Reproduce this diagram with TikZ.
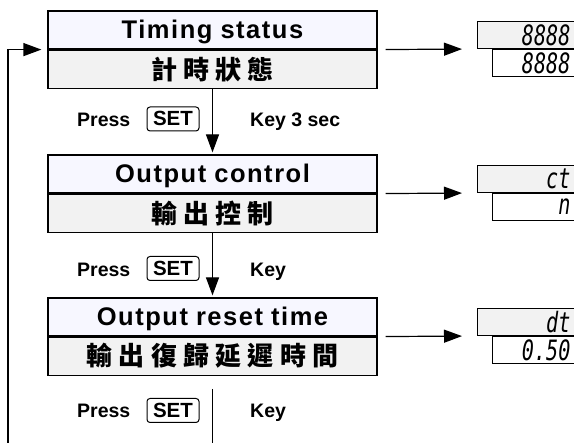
\documentclass[tikz,border=0pt]{standalone}
\usepackage{fontspec}
\usepackage{graphicx}
\setsansfont{Liberation Sans}
\newfontfamily\titlefont{Liberation Sans}[LetterSpace=6]
\newfontfamily\cjk{Noto Sans CJK TC}[LetterSpace=24]
\newfontfamily\lcd{DejaVu Sans Mono}
\usetikzlibrary{positioning,arrows.meta}

\tikzset{
  title/.style={draw, line width=1.2pt, fill=blue!3, minimum width=329pt,
    minimum height=38pt, inner sep=0pt, text height=18pt, text depth=0pt,
    font=\titlefont\bfseries\fontsize{25.5}{25}\selectfont},
  sub/.style={draw, line width=1.2pt, fill=gray!10, minimum width=329pt,
    minimum height=38pt, inner sep=0pt, font=\cjk\bfseries\fontsize{26}{26}\selectfont},
  lcdtop/.style={draw, line width=1pt, fill=gray!10, minimum height=27pt,
    inner xsep=10pt, inner ysep=0pt, align=right,
    font=\lcd\itshape\fontsize{28}{28}\selectfont},
  lcdbot/.style={lcdtop, fill=white},
  setkey/.style={draw, line width=1pt, rounded corners=3pt, minimum width=52pt,
    minimum height=24pt, inner sep=0pt, text height=14pt, text depth=0pt,
    font=\sffamily\bfseries\fontsize{20.5}{20}\selectfont},
  lbl/.style={anchor=base west, inner sep=0pt,
    font=\sffamily\bfseries\fontsize{19.5}{20}\selectfont},
  arr/.style={line width=1.2pt, -{Triangle[length=18pt,width=13pt]}},
}

\begin{document}
\begin{tikzpicture}[x=1pt,y=1pt]
    \clip (0,0) rectangle (574,443);
    % menu boxes
    \node[title] (t1) at (212.5,413) {Timing\hspace{8pt}status};
    \node[sub, below=0pt of t1] (c1) {計時狀態};
    \node[title] (t2) at (212.5,269) {Output\hspace{8pt}control};
    \node[sub, below=0pt of t2] (c2) {輸出控制};
    \node[title] (t3) at (212.5,126) {Output\hspace{8pt}reset\hspace{8pt}time};
    \node[sub, below=0pt of t3] (c3) {輸出復歸延遲時間};
    % displays
    \node[lcdtop, anchor=south west, text width=83pt] (d1) at (477,394) {\scalebox{0.72}[1]{8888}};
    \node[lcdbot, anchor=north west, text width=68pt] (e1) at (492,394) {\scalebox{0.72}[1]{8888}};
    \node[lcdtop, anchor=south west, text width=83pt] (d2) at (477,250) {\scalebox{0.72}[1]{ct}};
    \node[lcdbot, anchor=north west, text width=68pt] (e2) at (492,250) {\scalebox{0.72}[1]{n}};
    \node[lcdtop, anchor=south west, text width=83pt] (d3) at (477,107) {\scalebox{0.72}[1]{dt}};
    \node[lcdbot, anchor=north west, text width=68pt] (e3) at (492,107) {\scalebox{0.72}[1]{0.50}};
    % key labels
    \node[lbl] (p1) at (77,316) {Press};
    \node[setkey] (s1) at (173,324) {SET};
    \node[lbl] (k1) at (250,316) {Key 3 sec};
    \node[lbl] (p2) at (77,166) {Press};
    \node[setkey] (s2) at (173,174.5) {SET};
    \node[lbl] (k2) at (250,166) {Key};
    \node[lbl] (p3) at (77,25) {Press};
    \node[setkey] (s3) at (173,32.5) {SET};
    \node[lbl] (k3) at (250,25) {Key};
    % connectors
    \draw[arr, shorten >=2pt] (c1) -- (t2);
    \draw[arr, shorten >=2pt] (c2) -- (t3);
    \coordinate (b3) at ([yshift=-13pt]c3.south);
    \coordinate (f3) at (c3.south |- 0,0);
    \draw[line width=1.2pt] (b3) -- (f3);
    \coordinate (loop) at (8,0);
    \draw[arr, shorten >=6pt] (loop) |- (t1.south west);
    \draw[arr, shorten <=8pt, shorten >=15pt] (c1.north east) -- (d1.south west);
    \draw[arr, shorten <=8pt, shorten >=15pt] (c2.north east) -- (d2.south west);
    \draw[arr, shorten <=8pt, shorten >=15pt] (c3.north east) -- (d3.south west);
\end{tikzpicture}
\end{document}
